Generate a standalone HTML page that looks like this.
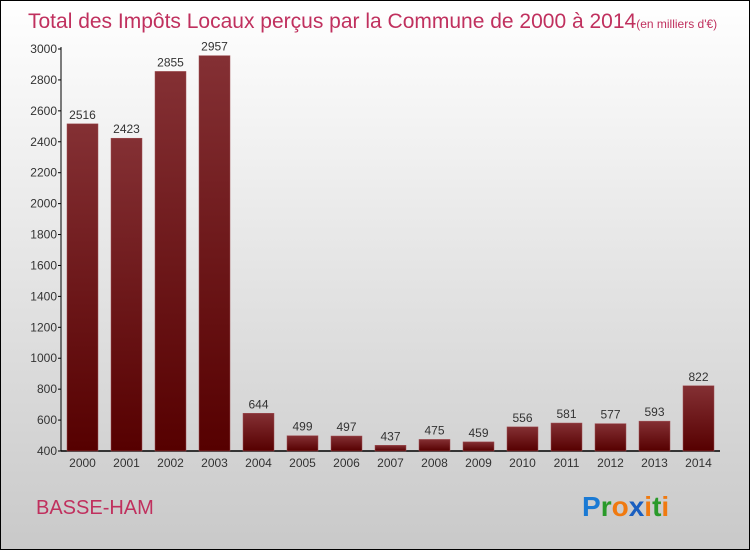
<!DOCTYPE html>
<html><head><meta charset="utf-8"><style>
body{margin:0}
svg text{font-family:"Liberation Sans",sans-serif}
</style></head><body>
<svg width="750" height="550" viewBox="0 0 750 550">
<defs>
<linearGradient id="bg" x1="0" y1="0" x2="0" y2="1"><stop offset="0" stop-color="#ffffff"/><stop offset="1" stop-color="#c9c9c9"/></linearGradient>
<linearGradient id="bar" x1="0" y1="0" x2="0" y2="1"><stop offset="0" stop-color="#843034"/><stop offset="1" stop-color="#560000"/></linearGradient>
</defs>
<rect x="0.5" y="0.5" width="749" height="549" fill="url(#bg)" stroke="#000"/>
<text x="28" y="28" font-size="21" fill="#c0305e">Total des Impôts Locaux perçus par la Commune de 2000 à 2014<tspan font-size="12">(en milliers d'€)</tspan></text>
<g id="axes"></g>
<g id="bars"></g>
<text x="36" y="514" font-size="20" fill="#c0305e">BASSE-HAM</text>
<text x="582" y="516" font-size="28" font-weight="bold"><tspan fill="#1a7ad4">P</tspan><tspan fill="#2a9a2a">r</tspan><tspan fill="#f07a10">o</tspan><tspan fill="#1a5fc0">x</tspan><tspan fill="#f07a10">i</tspan><tspan fill="#2a9a2a">t</tspan><tspan fill="#f07a10">i</tspan></text>
</svg>
<script>
const years=["2000","2001","2002","2003","2004","2005","2006","2007","2008","2009","2010","2011","2012","2013","2014"];
const values=[2516,2423,2855,2957,644,499,497,437,475,459,556,581,577,593,822];
const yTicks=[400,600,800,1000,1200,1400,1600,1800,2000,2200,2400,2600,2800,3000];
const NS="http://www.w3.org/2000/svg";
const y0=451,y1=49,vmin=400,vmax=3000;
const yS=v=>y0-(v-vmin)/(vmax-vmin)*(y0-y1);
const xS=i=>82.5+i*44;
function mk(t,a,p){const e=document.createElementNS(NS,t);for(const k in a)e.setAttribute(k,a[k]);p.appendChild(e);return e;}
const ax=document.getElementById('axes'),bg=document.getElementById('bars');
const yl=mk('line',{x1:61,y1:y1-2,x2:61,y2:y0,stroke:'#000'},ax);


const xl=mk('line',{x1:61,y1:y0,x2:720,y2:y0,stroke:'#000','stroke-width':1.5},ax);


yTicks.forEach(v=>{
 mk('line',{x1:58,x2:61,y1:yS(v),y2:yS(v),stroke:'#000'},ax);
 const t=mk('text',{x:57,y:yS(v)+4,'font-size':12,fill:'#333','text-anchor':'end'},ax);t.textContent=v;
 
 
});
years.forEach((yr,i)=>{
 const x=xS(i),v=values[i];
 const r=mk('rect',{x:x-15.5,y:yS(v),width:31,height:y0-yS(v),fill:'url(#bar)',stroke:'#a05055','stroke-width':0.5},bg);
 
 
 const l=mk('text',{x:x,y:yS(v)-5,'font-size':12,fill:'#333','text-anchor':'middle'},bg);l.textContent=v;
 
 
 const t=mk('text',{x:x,y:467,'font-size':12,fill:'#333','text-anchor':'middle'},ax);t.textContent=yr;
 
 
});
</script>
</body></html>
